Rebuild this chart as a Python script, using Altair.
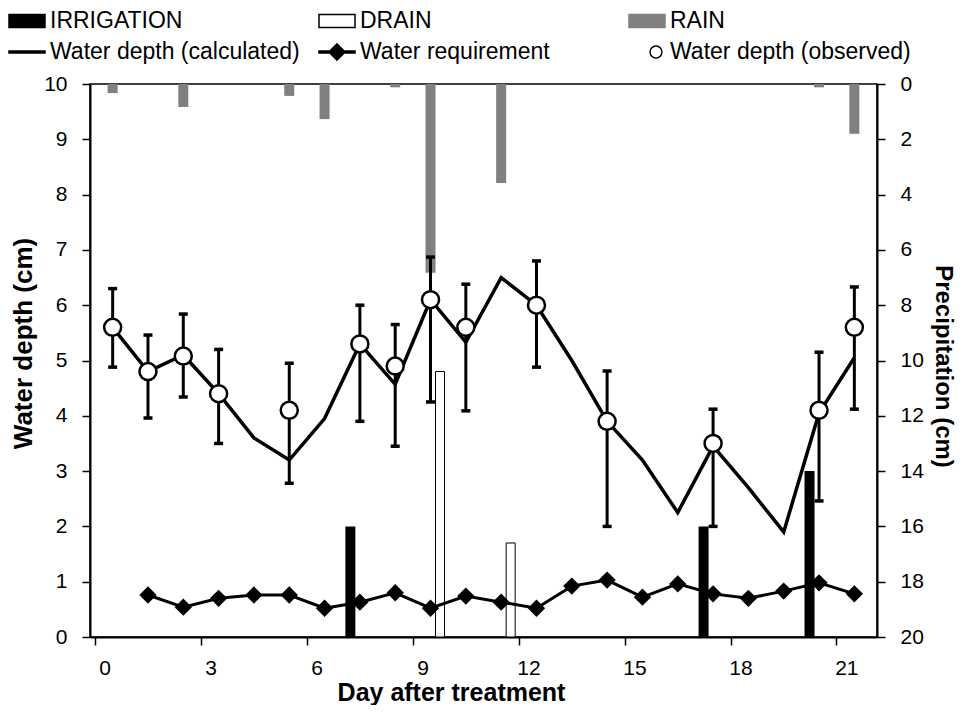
import altair as alt
import pandas as pd
import numpy as np

# ---------------- data ----------------
days = list(range(22))
calc_depth = [5.6, 4.8, 5.1, 4.4, 3.6, 3.2, 3.95, 5.3, 4.57, 6.1, 5.33, 6.5,
              6.0, 5.0, 3.9, 3.2, 2.25, 3.45, 2.7, 1.9, 4.05, 5.05]

req_days = list(range(1, 22))
water_req = [0.76, 0.54, 0.70, 0.76, 0.76, 0.52, 0.63, 0.80, 0.52, 0.74, 0.63,
             0.52, 0.92, 1.03, 0.72, 0.96, 0.78, 0.70, 0.83, 0.98, 0.78]

obs_days = [0, 1, 2, 3, 5, 7, 8, 9, 10, 12, 14, 17, 20, 21]
obs_depth = [5.6, 4.8, 5.08, 4.4, 4.1, 5.3, 4.9, 6.1, 5.6, 6.0, 3.9, 3.5, 4.1, 5.6]
obs_upper = [6.3, 5.46, 5.84, 5.2, 4.95, 6.0, 5.65, 6.87, 6.38, 6.8, 4.81, 4.12, 5.15, 6.33]
obs_lower = [4.88, 3.96, 4.34, 3.5, 2.78, 3.9, 3.45, 4.25, 4.09, 4.88, 2.0, 2.0, 2.46, 4.12]

rain_days = [0, 2, 5, 6, 8, 9, 11, 20, 21]
rain = [0.33, 0.83, 0.43, 1.27, 0.12, 6.83, 3.58, 0.12, 1.8]

irr_days = [7, 17, 20]
irrigation = [2.0, 2.0, 3.0]

drain_days = [9, 11]
drain = [4.8, 1.7]

x_ticks = [0, 3, 6, 9, 12, 15, 18, 21]
left_ticks = list(range(11))
right_ticks = list(range(0, 21, 2))

legend_items = ["IRRIGATION", "DRAIN", "RAIN",
                "Water depth (calculated)", "Water requirement", "Water depth (observed)"]

# ---------------- tables ----------------
calc_df = pd.DataFrame({"day": days, "v": calc_depth})
req_df = pd.DataFrame({"day": req_days, "v": water_req})
obs_df = pd.DataFrame({"day": obs_days, "v": obs_depth, "hi": obs_upper, "lo": obs_lower})
rain_df = pd.DataFrame({"day": rain_days, "r": rain})
irr_df = pd.DataFrame({"day": irr_days, "v": irrigation})
drain_df = pd.DataFrame({"day": drain_days, "v": drain})
leg_df = pd.DataFrame({"item": legend_items, "day": [np.nan] * 6, "v": [np.nan] * 6})

FONT = "Liberation Sans"
W, H = 787, 553
band = W / 22.0

xs = alt.Scale(domain=[-0.5, 21.5], nice=False, zero=False)
ys = alt.Scale(domain=[0, 10], nice=False, zero=True)
rs = alt.Scale(domain=[0, 20], nice=False, reverse=True)

common = dict(labelFontSize=21, tickSize=8, tickWidth=1.5, tickColor="black",
              domainColor="black", domainWidth=2, grid=False,
              labelColor="black", titleColor="black", titleFontWeight="bold")

xaxis = alt.Axis(values=x_ticks, tickOffset=-band / 2, labelOffset=band / 2 - 8,
                 title="Day after treatment", titleFontSize=25, titleX=361, titleY=63,
                 titleBaseline="alphabetic", titleAlign="center", labelPadding=12,
                 **common)
yaxis = alt.Axis(values=left_ticks, title="Water depth (cm)", titleFontSize=26,
                 titleAngle=270, titleX=-59, titleY=259, titleAlign="center",
                 titleBaseline="alphabetic", labelPadding=15, **common)
raxis = alt.Axis(orient="right", values=right_ticks, title="Precipitation (cm)",
                 titleFontSize=24, titleAngle=90, titleX=58, titleY=282,
                 titleAlign="center", titleBaseline="alphabetic", labelPadding=15,
                 **common)

X = alt.X("day:Q", scale=xs, axis=xaxis)


def Y(f, axis=yaxis):
    return alt.Y(f, scale=ys, axis=axis, stack=None)


irr = alt.Chart(irr_df).mark_bar(size=10, color="black", xOffset=-9.5).encode(
    x=X, y=Y("v:Q"))
drn = alt.Chart(drain_df).mark_bar(size=9, fill="white", stroke="black",
                                   strokeWidth=1, xOffset=9.5).encode(x=X, y=Y("v:Q"))
calc_line = alt.Chart(calc_df).mark_line(color="black", strokeWidth=3.5).encode(
    x=X, y=Y("v:Q"))
req_line = alt.Chart(req_df).mark_line(color="black", strokeWidth=3).encode(
    x=X, y=Y("v:Q"))
req_pts = alt.Chart(req_df).mark_point(shape="diamond", filled=True, color="black",
                                       size=300, opacity=1).encode(x=X, y=Y("v:Q"))

# legend (built from a layer whose rows are not drawable)
leg_fill = ["black", "white", "#808080", "black", "black", "white"]
leg_stroke = ["black", "black", "#808080", "black", "black", "black"]
rect_path = "M-1,-0.36H1V0.36H-1Z"
line_path = "M-1,-0.05H1V0.05H-1Z"
line_dia_path = "M-1,-0.05H1V0.05H-1Z M0,-0.45L0.45,0L0,0.45L-0.45,0Z"
circ_path = "M0.17,0A0.33,0.33,0,1,1,0.83,0A0.33,0.33,0,1,1,0.17,0Z"
leg_shape = [rect_path, rect_path, rect_path, line_path, line_dia_path, circ_path]
leg = alt.Legend(title=None, orient="none", legendX=-82, legendY=-82, columns=3,
                 gridAlign="all", direction="horizontal", symbolSize=1296,
                 symbolStrokeWidth=1.5, labelFontSize=23, labelFont=FONT,
                 labelColor="black", labelOffset=4, columnPadding=16, rowPadding=0,
                 labelLimit=400)
legend_layer = alt.Chart(leg_df).mark_point(filled=True, opacity=1).encode(
    x=X, y=Y("v:Q"),
    fill=alt.Fill("item:N", scale=alt.Scale(domain=legend_items, range=leg_fill), legend=leg),
    stroke=alt.Stroke("item:N", scale=alt.Scale(domain=legend_items, range=leg_stroke), legend=leg),
    shape=alt.Shape("item:N", scale=alt.Scale(domain=legend_items, range=leg_shape), legend=leg),
)

left = alt.layer(irr, drn, calc_line, req_line, req_pts, legend_layer)

rain_bars = alt.Chart(rain_df).mark_bar(size=10, color="#808080").encode(
    x=X, y=alt.Y("r:Q", scale=rs, axis=raxis, stack=None))

err = alt.Chart(obs_df).mark_rule(color="black", strokeWidth=3).encode(
    x=X, y=Y("lo:Q", axis=None), y2="hi:Q")
cap_hi = alt.Chart(obs_df).mark_tick(orient="horizontal", color="black", size=9,
                                     thickness=3.5, opacity=1).encode(
    x=X, y=Y("hi:Q", axis=None))
cap_lo = alt.Chart(obs_df).mark_tick(orient="horizontal", color="black", size=9,
                                     thickness=3.5, opacity=1).encode(
    x=X, y=Y("lo:Q", axis=None))
obs_pts = alt.Chart(obs_df).mark_point(shape="circle", filled=True, fill="white",
                                       stroke="black", strokeWidth=2.5, size=290,
                                       opacity=1).encode(x=X, y=Y("v:Q", axis=None))
observed = alt.layer(err, cap_hi, cap_lo, obs_pts)

chart = alt.layer(left, rain_bars, observed).resolve_scale(y="independent")

chart = chart.properties(
    width=W, height=H,
    autosize=alt.AutoSizeParams(type="none"),
    padding={"left": 82, "top": 76, "right": 81, "bottom": 68},
).configure(font=FONT).configure_view(stroke="black", strokeWidth=1.5)

chart.save("out.html", embed_options={"renderer": "svg", "actions": False})
